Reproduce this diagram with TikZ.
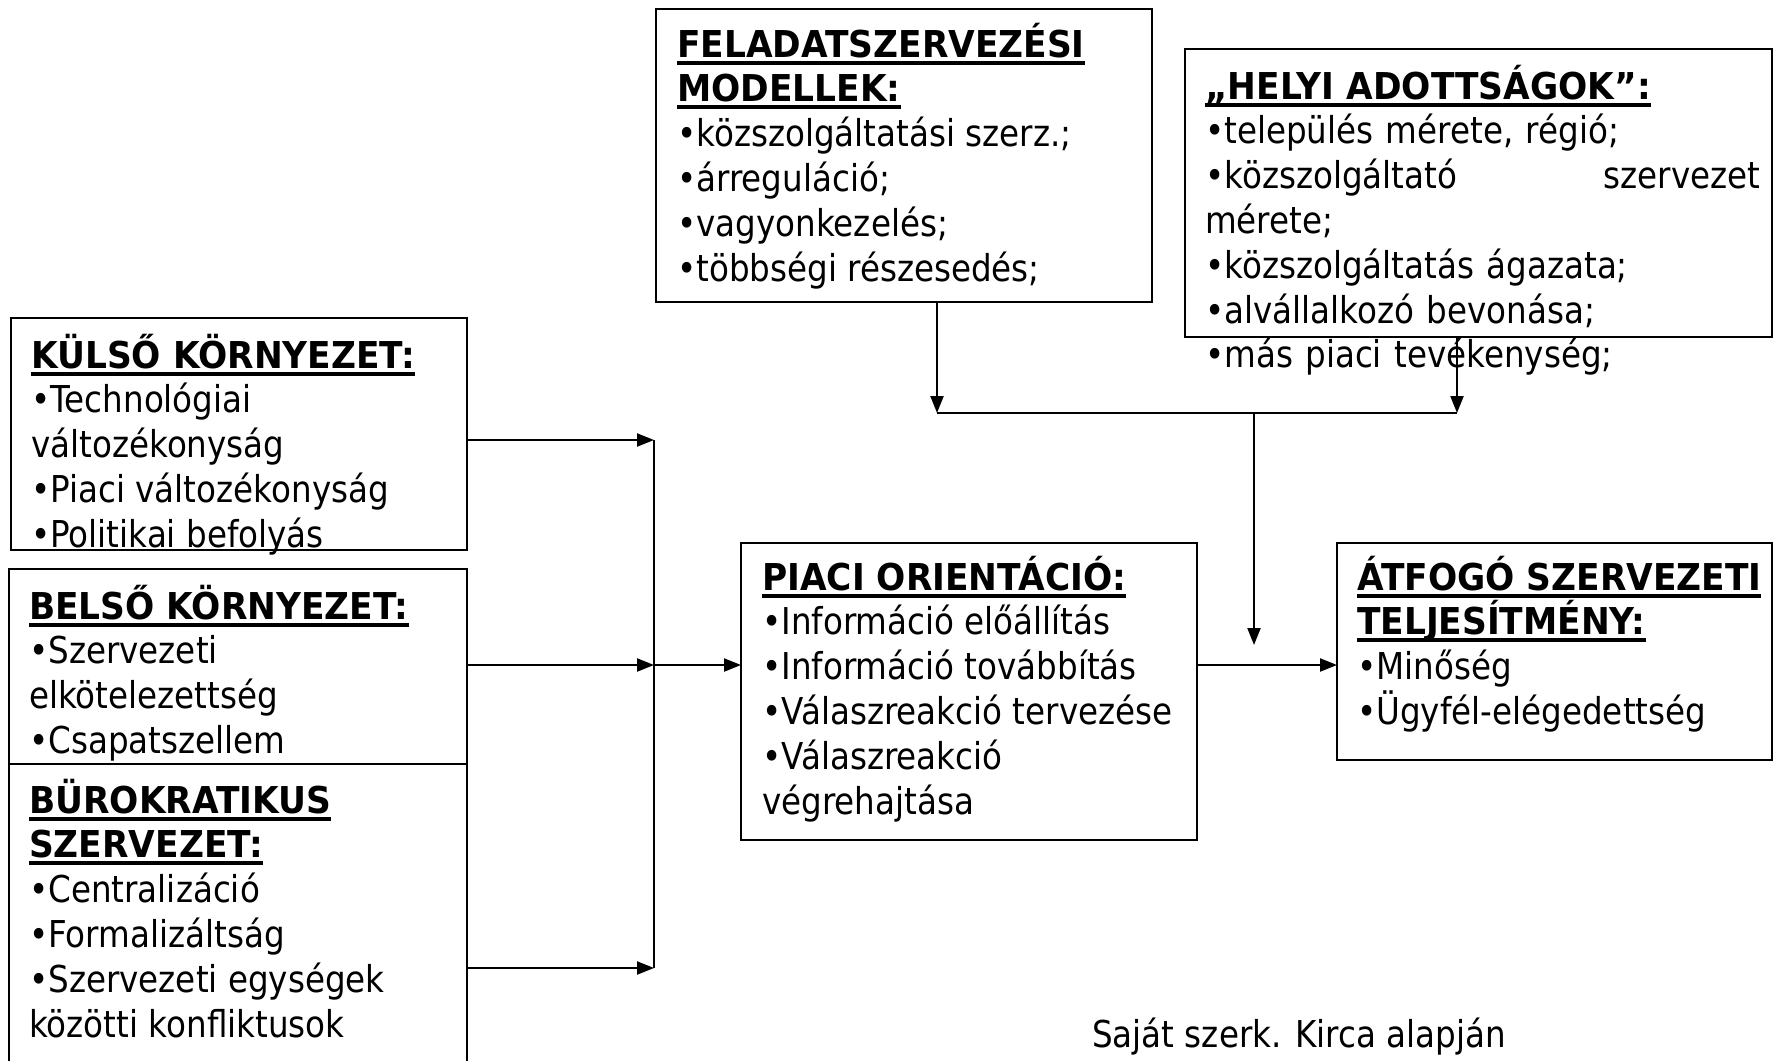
\documentclass[tikz,border=0pt]{standalone}
\usepackage{fontspec}
\setmainfont{DejaVu Sans}[FakeStretch=0.88,BoldFeatures={FakeStretch=0.93}]
\usetikzlibrary{arrows.meta}
\newcommand\myul[1]{\setbox0\hbox{\bfseries #1}\rlap{\rule[-7.5pt]{\wd0}{4pt}}\box0}
\begin{document}
\begin{tikzpicture}[x=1pt,y=-1pt,
 box/.style={draw,line width=2.2pt,anchor=north west,inner sep=0pt,outer sep=0pt},
 txt/.style={anchor=north west,inner sep=0pt,align=left,font=\fontsize{37}{44.8}\selectfont},
 conn/.style={line width=2.2pt},
 arr/.style={conn,-{Triangle[length=17pt,width=13pt]}}]
\useasboundingbox[fill=white] (0,0) rectangle (1774,1060);

% boxes
\node[box,minimum width=496pt,minimum height=293pt] (feladat) at (656,9) {};
\node[box,minimum width=587pt,minimum height=288pt] (helyi) at (1185,49) {};
\node[box,minimum width=456pt,minimum height=232pt] (kulso) at (11,318) {};
\node[box,minimum width=458pt,minimum height=195pt] (belso) at (9,569) {};
\node[box,minimum width=458pt,minimum height=320pt] (buro) at (9,764) {};
\node[box,minimum width=456pt,minimum height=297pt] (piaci) at (741,543) {};
\node[box,minimum width=435pt,minimum height=217pt] (atfogo) at (1337,543) {};

% texts
\node[txt] (feladatT) at (677,22.5) {\myul{FELADATSZERVEZÉSI}\\ \myul{MODELLEK:}\\ •közszolgáltatási szerz.;\\ •árreguláció;\\ •vagyonkezelés;\\ •többségi részesedés;};
\node[txt,text width=555pt] (helyiT) at (1205,64.5) {\myul{„HELYI ADOTTSÁGOK”:}\\ •település mérete, régió;\\ •közszolgáltató\hfill szervezet\\ mérete;\\ •közszolgáltatás ágazata;\\ •alvállalkozó bevonása;\\ •más piaci tevékenység;};
\node[txt] (kulsoT) at (31,333.5) {\myul{KÜLSŐ KÖRNYEZET:}\\ •Technológiai\\ változékonyság\\ •Piaci változékonyság\\ •Politikai befolyás};
\node[txt] (belsoT) at (29,584.5) {\myul{BELSŐ KÖRNYEZET:}\\ •Szervezeti\\ elkötelezettség\\ •Csapatszellem};
\node[txt] (buroT) at (29,778.5) {\myul{BÜROKRATIKUS}\\ \myul{SZERVEZET:}\\ •Centralizáció\\ •Formalizáltság\\ •Szervezeti egységek\\ közötti konfliktusok};
\node[txt] (piaciT) at (762,555.5) {\myul{PIACI ORIENTÁCIÓ:}\\ •Információ előállítás\\ •Információ továbbítás\\ •Válaszreakció tervezése\\ •Válaszreakció\\ végrehajtása};
\node[txt] (atfogoT) at (1357,555.5) {\myul{ÁTFOGÓ SZERVEZETI}\\ \myul{TELJESÍTMÉNY:}\\ •Minőség\\ •Ügyfél-elégedettség};
\node[anchor=base west,inner sep=0pt,font=\fontsize{37}{44.8}\selectfont] (src) at (1092,1047) {Saját szerk. Kirca alapján};

% top connectors
\coordinate (fx) at (937,413);
\coordinate (hx) at (1457,413);
\coordinate (mx) at (1254,413);
\coordinate (mt) at (1254,645);
\draw[arr] (feladat.south -| fx) -- (fx);
\draw[arr] (helyi.south -| hx) -- (hx);
\draw[conn] (fx) -- (hx);
\draw[arr] (mx) -- (mt);

% left connectors
\coordinate (j1) at (654,440);
\coordinate (j2) at (654,665);
\coordinate (j3) at (654,968);
\draw[arr] (kulso.east |- j1) -- (j1);
\draw[arr] (belso.east |- j2) -- (j2);
\draw[arr] (buro.east |- j3) -- (j3);
\draw[conn] (j1) -- (j3);
\draw[arr] (j2) -- (piaci.west |- j2);
\draw[arr] (piaci.east |- j2) -- (atfogo.west |- j2);
\end{tikzpicture}
\end{document}
